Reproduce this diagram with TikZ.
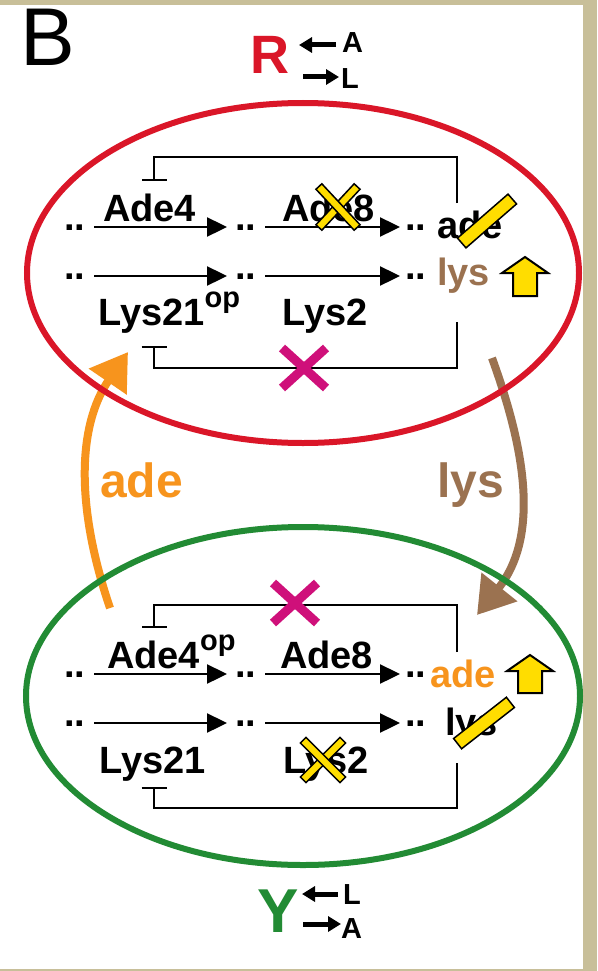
\documentclass[tikz,border=0pt]{standalone}
\usepackage{fontspec}
\setmainfont{Liberation Sans}
\usetikzlibrary{arrows.meta}
\definecolor{frameTan}{RGB}{200,191,153}
\definecolor{ringR}{RGB}{218,22,40}
\definecolor{ringY}{RGB}{34,139,52}
\definecolor{adeOrange}{RGB}{247,148,29}
\definecolor{lysBrown}{RGB}{155,114,80}
\definecolor{blockMag}{RGB}{207,16,122}
\definecolor{markYellow}{RGB}{255,221,0}
\tikzset{
  lab/.style={font=\bfseries\fontsize{38}{40}\selectfont, inner sep=0pt, anchor=base west},
  midlab/.style={font=\bfseries\fontsize{48}{50}\selectfont, inner sep=0pt, anchor=base west},
  dotpair/.style={font=\bfseries\fontsize{38}{40}\selectfont, inner sep=0pt, anchor=base west},
  pathway/.style={line width=2.4pt, -{Triangle[length=20pt,width=19pt]}},
  feedback/.style={line width=2pt, -{Bar[width=25pt]}},
  ring/.style={line width=6pt},
  blockx/.style={blockMag, line width=9pt},
  crossbar/.style={draw=black, fill=markYellow, line width=1.5pt, rectangle, inner sep=0pt,
                   minimum height=8pt, minimum width=56pt},
  slashbar/.style={crossbar, minimum height=13pt, minimum width=67pt},
  upmark/.style={draw=black, fill=markYellow, line width=2pt, line join=miter},
  flow/.style={line width=8pt, -{Triangle[length=36pt,width=44pt]}},
  keyarrow/.style={line width=5pt, -{Triangle[length=13pt,width=15pt]}},
}
\newcommand{\oplabel}{\raisebox{18pt}{\fontsize{29}{30}\selectfont op}}
\begin{document}
\begin{tikzpicture}[x=1pt,y=-1pt]
% frame
\fill[frameTan] (0,0) rectangle (597,971);
\fill[white] (0,5) rectangle (583,969);
\useasboundingbox (0,0) rectangle (597,971);

% panel letter
\node[inner sep=0pt, anchor=base west, font=\fontsize{82}{84}\selectfont] (panel) at (20,66) {B};

% strain keys
\node[inner sep=0pt, anchor=base west, text=ringR, font=\bfseries\fontsize{54}{56}\selectfont] (Rname) at (250,74) {R};
\node[inner sep=0pt, anchor=base west, font=\bfseries\fontsize{29}{30}\selectfont] (RA) at (342,53) {A};
\node[inner sep=0pt, anchor=base west, font=\bfseries\fontsize{29}{30}\selectfont] (RL) at (341,89) {L};
\coordinate (RinS) at (336,45);  \coordinate (RinE) at (299,45);
\coordinate (RoutS) at (303,77); \coordinate (RoutE) at (339,77);
\draw[keyarrow] (RinS) -- (RinE);
\draw[keyarrow] (RoutS) -- (RoutE);

\node[inner sep=0pt, anchor=base west, text=ringY, font=\bfseries\fontsize{62}{64}\selectfont] (Yname) at (257,932) {Y};
\node[inner sep=0pt, anchor=base west, font=\bfseries\fontsize{29}{30}\selectfont] (YL) at (343,904) {L};
\node[inner sep=0pt, anchor=base west, font=\bfseries\fontsize{29}{30}\selectfont] (YA) at (341,938) {A};
\coordinate (YinS) at (338,894);  \coordinate (YinE) at (302,894);
\coordinate (YoutS) at (303,924); \coordinate (YoutE) at (341,924);
\draw[keyarrow] (YinS) -- (YinE);
\draw[keyarrow] (YoutS) -- (YoutE);

% exchange between the two strains
\coordinate (adeFrom) at (110,608); \coordinate (adeTo) at (128,352);
\draw[flow, adeOrange] (adeFrom) .. controls (75,505) and (78,425) .. (adeTo);
\coordinate (lysFrom) at (492,358); \coordinate (lysTo) at (477,615);
\draw[flow, lysBrown] (lysFrom) .. controls (518,430) and (545,530) .. (lysTo);
\node[midlab, text=adeOrange] (adeMid) at (100,497) {ade};
\node[midlab, text=lysBrown] (lysMid) at (437,497) {lys};

% cells
\draw[ring, ringR] (303,273) ellipse [x radius=276pt, y radius=170pt];
\draw[ring, ringY] (303,696) ellipse [x radius=277pt, y radius=169pt];

% pathway rows
\foreach \r/\y in {R1/227, R2/276, Y1/674, Y2/723}{
  \node[dotpair] (\r d1) at (64,\y+3) {..};
  \node[dotpair] (\r d2) at (235,\y+3) {..};
  \node[dotpair] (\r d3) at (405,\y+3) {..};
  \coordinate (\r s1) at (94,\y);  \coordinate (\r e1) at (227,\y);
  \coordinate (\r s2) at (265,\y); \coordinate (\r e2) at (400,\y);
  \draw[pathway] (\r s1) -- (\r e1);
  \draw[pathway] (\r s2) -- (\r e2);
}

% R cell labels
\node[lab] (RAde4) at (103,221) {Ade4};
\node[lab] (RAde8) at (282,221) {Ade8};
\node[lab] (RLys21) at (98,325) {Lys21\oplabel};
\node[lab] (RLys2) at (282,325) {Lys2};
\node[lab] (Rade) at (437,238) {ade};
\node[lab, text=lysBrown] (Rlys) at (437,285) {lys};

% Y cell labels
\node[lab] (YAde4) at (107,668) {Ade4\oplabel};
\node[lab] (YAde8) at (280,668) {Ade8};
\node[lab] (YLys21) at (99,773) {Lys21};
\node[lab] (YLys2) at (283,773) {Lys2};
\node[lab, text=adeOrange] (Yade) at (430,687) {ade};
\node[lab] (Ylys) at (445,735) {lys};

% feedback inhibition loops
\coordinate (RfbA) at (457,203); \coordinate (RfbAt) at (154,181);
\draw[feedback] (RfbA) -- (457,157) -- (154,157) -- (RfbAt);
\coordinate (RfbL) at (457,322); \coordinate (RfbLt) at (154,346);
\draw[feedback] (RfbL) -- (457,368) -- (154,368) -- (RfbLt);
\coordinate (YfbA) at (457,652); \coordinate (YfbAt) at (154,628);
\draw[feedback] (YfbA) -- (457,605) -- (154,605) -- (YfbAt);
\coordinate (YfbL) at (457,763); \coordinate (YfbLt) at (154,787);
\draw[feedback] (YfbL) -- (457,808) -- (154,808) -- (YfbLt);

% loss of feedback
\draw[blockx] (282,348) -- (326,388) (326,348) -- (282,388);
\draw[blockx] (273,583) -- (317,623) (317,583) -- (273,623);

% deleted enzymes
\node[crossbar, rotate=47] (RAde8x1) at (338,207) {};
\node[crossbar, rotate=-47] (RAde8x2) at (338,207) {};
\node[crossbar, rotate=45] (YLys2x1) at (323,760) {};
\node[crossbar, rotate=-45] (YLys2x2) at (323,760) {};

% not produced
\node[slashbar, rotate=41] (Radex) at (487,221) {};
\node[slashbar, rotate=38] (Ylysx) at (484,723) {};

% overproduced
\draw[upmark] (513,296) -- (537,296) -- (537,273) -- (548,273) -- (525,257)
  -- (502,273) -- (513,273) -- cycle;
\draw[upmark] (518,693) -- (542,693) -- (542,671) -- (553,671) -- (530,655)
  -- (507,671) -- (518,671) -- cycle;
\end{tikzpicture}
\end{document}
